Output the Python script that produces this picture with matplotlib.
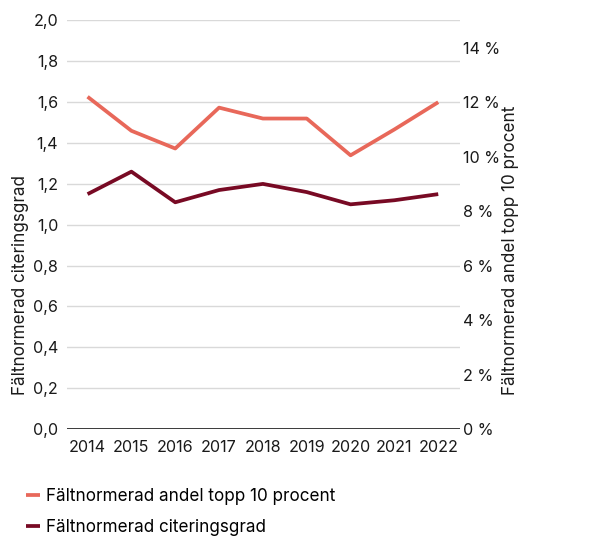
import matplotlib
matplotlib.use('Agg')
import matplotlib.pyplot as plt
from matplotlib.ticker import FuncFormatter

plt.rcParams['font.family'] = ['Inter', 'DejaVu Sans']

years = ['2014', '2015', '2016', '2017', '2018', '2019', '2020', '2021', '2022']
# andel topp 10 procent (right axis, %)
topp10 = [12.2, 10.95, 10.3, 11.8, 11.4, 11.4, 10.05, 11.0, 12.0]
# citeringsgrad (left axis)
citering = [1.15, 1.26, 1.11, 1.17, 1.20, 1.16, 1.10, 1.12, 1.15]

orange = '#E8685A'
darkred = '#780A24'
txt = '#1a1a1a'
fs = 12.3
tick_fs = 11.6

fig = plt.figure(figsize=(6.16, 5.39), dpi=100)
ax = fig.add_axes([0.108, 0.204, 0.639, 0.758])
ax2 = ax.twinx()

x = list(range(len(years)))
l2, = ax.plot(x, citering, color=darkred, lw=2.7, solid_capstyle='butt',
              label='Fältnormerad citeringsgrad', zorder=3)
l1, = ax2.plot(x, topp10, color=orange, lw=2.7, solid_capstyle='butt',
               label='Fältnormerad andel topp 10 procent', zorder=3)

ax.set_xlim(-0.48, 8.5)
ax.set_ylim(0, 2.0)
ax2.set_ylim(0, 15)
ax.set_yticks([i * 0.2 for i in range(11)])
ax2.set_yticks(range(0, 15, 2))
ax.yaxis.set_major_formatter(FuncFormatter(lambda v, p: f'{v:.1f}'.replace('.', ',')))
ax2.yaxis.set_major_formatter(FuncFormatter(lambda v, p: f'{int(v)} %'))
ax.set_xticks(x)
ax.set_xticklabels(years)

ax.grid(axis='y', color='#d9d9d9', lw=1)
ax.set_axisbelow(True)
for a in (ax, ax2):
    for s in ['top', 'right', 'left', 'bottom']:
        a.spines[s].set_visible(False)
    a.tick_params(length=0, labelsize=tick_fs, colors=txt)
ax.axhline(0, color=txt, lw=1.2, zorder=4)
ax.tick_params(axis='y', pad=6)
ax.tick_params(axis='x', pad=8)
ax2.tick_params(axis='y', pad=2)

# axis titles sit low, their ends level with about 0,16
fig.text(0.034, 0.267, 'Fältnormerad citeringsgrad', rotation=90,
         ha='center', va='bottom', fontsize=fs, color=txt)
fig.text(0.828, 0.267, 'Fältnormerad andel topp 10 procent', rotation=90,
         ha='center', va='bottom', fontsize=fs, color=txt)

fig.legend(handles=[l1, l2], loc='lower left', bbox_to_anchor=(0.02, -0.02),
           frameon=False, fontsize=fs, handlelength=0.8, handletextpad=0.4,
           labelspacing=0.8, borderaxespad=0.4)

fig.savefig('out.png', dpi=100)
